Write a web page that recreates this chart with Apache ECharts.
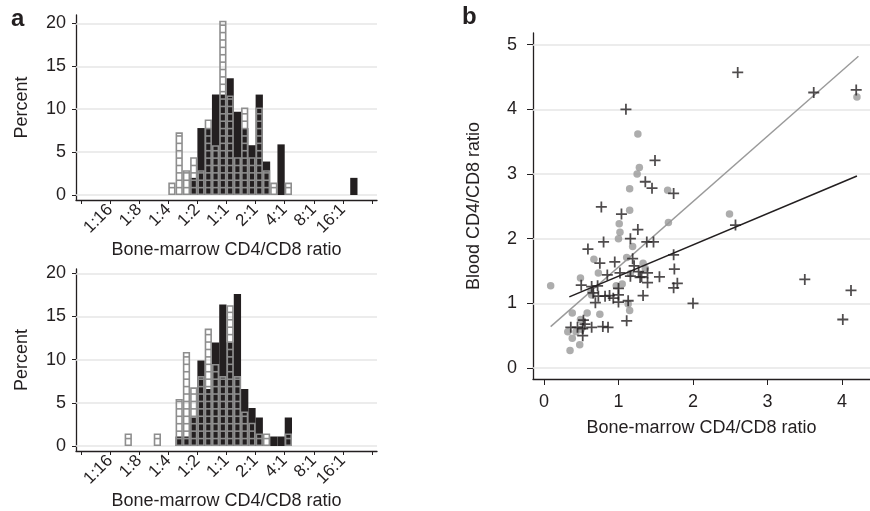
<!DOCTYPE html>
<html>
<head>
<meta charset="utf-8">
<script src="https://cdn.jsdelivr.net/npm/echarts@6/dist/echarts.min.js"></script>
<style>
html, body { margin: 0; padding: 0; background: #fff; }
#main { width: 870px; height: 511px; }
</style>
</head>
<body>
<div id="main"></div>
<script>
// histogram bins: left edge in log2(CD4/CD8), each bin 0.25 wide
var binWidth = 0.25;
var topBlackBins = [-1.25, -1, -0.75, -0.5, -0.25, 0, 0.25, 0.5, 0.75, 1, 1.25, 1.75, 4.25];
var topBlackPct  = [2.0, 7.8, 7.8, 11.7, 11.7, 13.6, 9.7, 7.8, 5.8, 11.7, 3.9, 5.9, 2.0];
var topGrayBins  = [-2, -1.75, -1.5, -1.25, -1, -0.75, -0.5, -0.25, 0, 0.25, 0.5, 0.75, 1, 1.25, 1.5, 2];
var topGrayPct   = [1.45, 7.3, 2.9, 4.4, 2.9, 8.8, 5.8, 20.3, 11.6, 4.4, 10.2, 4.4, 10.2, 2.9, 1.45, 1.45];
var botBlackBins = [-1.75, -1.5, -1.25, -1, -0.75, -0.5, -0.25, 0, 0.25, 0.5, 0.75, 1, 1.5, 1.75, 2];
var botBlackPct  = [1.1, 1.1, 3.3, 9.9, 6.6, 12.0, 16.4, 12.0, 17.6, 6.6, 4.4, 3.3, 1.1, 1.1, 3.3];
var botGrayBins  = [-3.5, -2.5, -1.75, -1.5, -1.25, -1, -0.75, -0.5, -0.25, 0, 0.25, 0.5, 0.75, 1, 1.25, 2];
var botGrayPct   = [1.45, 1.45, 5.45, 10.9, 6.8, 8.1, 13.6, 9.5, 8.1, 16.3, 8.1, 4.0, 2.7, 1.45, 1.45, 1.45];

// axis ticks
var histYTicks = [0, 5, 10, 15, 20];
var ratioTickPos = [-5, -4, -3, -2, -1, 0, 1, 2, 3, 4, 5];
var ratioLabelPos = [-4, -3, -2, -1, 0, 1, 2, 3, 4];
var ratioLabels = ['1:16', '1:8', '1:4', '1:2', '1:1', '2:1', '4:1', '8:1', '16:1'];
var scatterXTicks = [0, 1, 2, 3, 4];
var scatterYTicks = [0, 1, 2, 3, 4, 5];

// scatter: [bone-marrow ratio, blood ratio]
var plusPts = [
  [2.60, 4.57], [3.62, 4.26], [4.19, 4.30], [1.10, 4.00], [1.49, 3.21], [1.36, 2.88],
  [1.45, 2.78], [1.74, 2.70], [0.77, 2.49], [1.04, 2.38], [1.26, 2.14], [2.57, 2.21],
  [0.80, 1.95], [1.16, 2.00], [1.38, 1.95], [1.47, 1.95], [0.59, 1.84], [0.75, 1.62],
  [0.95, 1.64], [1.19, 1.69], [1.21, 1.58], [1.74, 1.75], [0.85, 1.44], [1.02, 1.47],
  [1.16, 1.42], [1.27, 1.49], [1.31, 1.41], [1.39, 1.47], [1.29, 1.40], [1.55, 1.41],
  [1.75, 1.53], [1.79, 1.31], [1.74, 1.24], [1.39, 1.32], [0.50, 1.28], [0.64, 1.26],
  [0.72, 1.27], [0.66, 1.16], [0.73, 1.11], [0.82, 1.11], [0.88, 1.12], [0.93, 1.08],
  [1.00, 1.23], [1.00, 1.13], [1.00, 1.02], [1.13, 1.04], [0.69, 1.01], [1.33, 1.12],
  [1.11, 0.73], [2.00, 1.00], [3.50, 1.37], [4.12, 1.20], [4.01, 0.75], [0.36, 0.63],
  [0.45, 0.63], [0.53, 0.74], [0.52, 0.61], [0.64, 0.63], [0.52, 0.50], [0.79, 0.64],
  [0.86, 0.63], [0.55, 0.68]
];
var dotPts = [
  [0.09, 1.27], [1.26, 3.62], [1.28, 3.10], [1.25, 3.00], [1.15, 2.77], [1.66, 2.75],
  [1.15, 2.44], [1.01, 2.23], [1.67, 2.25], [1.02, 2.10], [1.00, 2.00], [1.19, 1.88],
  [2.49, 2.38], [4.20, 4.19], [1.11, 1.71], [0.67, 1.68], [0.73, 1.47], [1.33, 1.62],
  [1.36, 1.54], [0.49, 1.39], [1.05, 1.30], [0.97, 1.27], [1.16, 1.46], [0.63, 1.18],
  [0.64, 1.13], [0.38, 0.85], [0.58, 0.85], [0.75, 0.83], [1.13, 0.99], [1.15, 0.89],
  [0.49, 0.75], [0.50, 0.60], [0.43, 0.56], [0.32, 0.56], [0.38, 0.46], [0.48, 0.36],
  [0.35, 0.27]
];
var grayFit = [[0.09, 0.64], [4.22, 4.82]];
var blackFit = [[0.34, 1.10], [4.20, 2.97]];

var ink = '#231f20';
var boxGray = '#8e8e8e';
var gridGray = '#e6e6e6';
var font = 'Liberation Sans, Arial, sans-serif';
var boxStep = 0.86;   // height of one pattern square, in percent

function pairs(xs, ys) {
  return xs.map(function (x, i) { return [x, ys[i]]; });
}

function blackBar(params, api) {
  var x0 = api.value(0), h = api.value(1);
  var a = api.coord([x0, h]), b = api.coord([x0 + binWidth, 0]);
  return {
    type: 'rect',
    shape: { x: a[0], y: a[1], width: b[0] - a[0], height: b[1] - a[1] },
    style: { fill: ink }
  };
}

function grayBar(params, api) {
  var x0 = api.value(0), h = api.value(1);
  var a = api.coord([x0, h]), b = api.coord([x0 + binWidth, 0]);
  var lw = 1.6;
  var kids = [{
    type: 'rect',
    shape: { x: a[0] + lw / 2, y: a[1] + lw / 2, width: b[0] - a[0] - lw, height: b[1] - a[1] - lw },
    style: { fill: 'none', stroke: boxGray, lineWidth: lw }
  }];
  for (var v = boxStep; v < h - 0.25; v += boxStep) {
    var y = api.coord([x0, v])[1];
    kids.push({
      type: 'line',
      shape: { x1: a[0] + lw / 2, y1: y, x2: b[0] - lw / 2, y2: y },
      style: { stroke: boxGray, lineWidth: lw }
    });
  }
  return { type: 'group', children: kids };
}

function ratioFmt(v) {
  return ratioLabels[ratioLabelPos.indexOf(v)];
}

function histX(idx) {
  return {
    gridIndex: idx, type: 'value', min: -5.17, max: 5.17,
    axisLine: { show: true, onZero: false, lineStyle: { color: ink, width: 1.3 } },
    axisTick: { show: true, customValues: ratioTickPos, length: 4, lineStyle: { color: ink, width: 1 } },
    axisLabel: { customValues: ratioLabelPos, formatter: ratioFmt, rotate: 45, margin: 7,
      fontSize: 17, color: ink, fontFamily: font },
    splitLine: { show: false },
    name: 'Bone-marrow CD4/CD8 ratio', nameLocation: 'middle', nameGap: 41,
    nameTextStyle: { fontSize: 18, color: ink, fontFamily: font }
  };
}

function histY(idx, maxV) {
  return {
    gridIndex: idx, type: 'value', min: -0.58, max: maxV,
    axisLine: { show: true, onZero: false, lineStyle: { color: ink, width: 1.3 } },
    axisTick: { show: true, customValues: histYTicks, length: 4, lineStyle: { color: ink, width: 1 } },
    axisLabel: { customValues: histYTicks, margin: 10, fontSize: 18, color: ink, fontFamily: font },
    splitLine: { show: false },
    name: 'Percent', nameLocation: 'middle', nameGap: 45,
    nameTextStyle: { fontSize: 18, color: ink, fontFamily: font }
  };
}

function gridLines(xi, yi, ticks) {
  return {
    type: 'line', xAxisIndex: xi, yAxisIndex: yi, data: [], silent: true,
    markLine: {
      silent: true, symbol: 'none', z: 1, animation: false,
      label: { show: false },
      lineStyle: { color: gridGray, width: 1.5, type: 'solid' },
      data: ticks.map(function (v) { return { yAxis: v }; })
    }
  };
}

var plusPath = 'path://M4.2,0H5.8V4.2H10V5.8H5.8V10H4.2V5.8H0V4.2H4.2Z';

var chart = echarts.init(document.getElementById('main'), null, { renderer: 'canvas' });
chart.setOption({
  animation: false,
  backgroundColor: '#fff',
  textStyle: { fontFamily: font },
  grid: [
    { left: 76, top: 15, width: 301, height: 185 },
    { left: 76, top: 269, width: 301, height: 183 },
    { left: 533, top: 33, width: 347, height: 346 }
  ],
  graphic: [
    { type: 'text', left: 11, top: 7, style: { text: 'a', font: 'bold 24px ' + font, fill: ink } },
    { type: 'text', left: 462, top: 5, style: { text: 'b', font: 'bold 24px ' + font, fill: ink } }
  ],
  xAxis: [
    histX(0),
    histX(1),
    {
      gridIndex: 2, type: 'value', min: -0.147, max: 4.375,
      axisLine: { show: true, onZero: false, lineStyle: { color: ink, width: 1.3 } },
      axisTick: { show: true, customValues: scatterXTicks, length: 6, lineStyle: { color: ink, width: 1 } },
      axisLabel: { customValues: scatterXTicks, margin: 14, fontSize: 18, color: ink, fontFamily: font },
      splitLine: { show: false },
      name: 'Bone-marrow CD4/CD8 ratio', nameLocation: 'middle', nameGap: 40,
      nameTextStyle: { fontSize: 18, color: ink, fontFamily: font }
    }
  ],
  yAxis: [
    histY(0, 20.97),
    histY(1, 20.5),
    {
      gridIndex: 2, type: 'value', min: -0.17, max: 5.18,
      axisLine: { show: true, onZero: false, lineStyle: { color: ink, width: 1.3 } },
      axisTick: { show: true, customValues: scatterYTicks, length: 6, lineStyle: { color: ink, width: 1 } },
      axisLabel: { customValues: scatterYTicks, margin: 16, fontSize: 18, color: ink, fontFamily: font },
      splitLine: { show: false },
      name: 'Blood CD4/CD8 ratio', nameLocation: 'middle', nameGap: 50,
      nameTextStyle: { fontSize: 18, color: ink, fontFamily: font }
    }
  ],
  series: [
    gridLines(0, 0, histYTicks),
    gridLines(1, 1, histYTicks),
    gridLines(2, 2, scatterYTicks),
    { type: 'custom', xAxisIndex: 0, yAxisIndex: 0, z: 2, renderItem: blackBar, data: pairs(topBlackBins, topBlackPct) },
    { type: 'custom', xAxisIndex: 0, yAxisIndex: 0, z: 3, renderItem: grayBar, data: pairs(topGrayBins, topGrayPct) },
    { type: 'custom', xAxisIndex: 1, yAxisIndex: 1, z: 2, renderItem: blackBar, data: pairs(botBlackBins, botBlackPct) },
    { type: 'custom', xAxisIndex: 1, yAxisIndex: 1, z: 3, renderItem: grayBar, data: pairs(botGrayBins, botGrayPct) },
    {
      type: 'scatter', xAxisIndex: 2, yAxisIndex: 2, z: 2, symbol: 'circle', symbolSize: 7.5,
      itemStyle: { color: '#999999' }, data: dotPts
    },
    {
      type: 'line', xAxisIndex: 2, yAxisIndex: 2, z: 3, showSymbol: false, data: grayFit,
      lineStyle: { color: '#9a9a9a', width: 1.4 }
    },
    {
      type: 'line', xAxisIndex: 2, yAxisIndex: 2, z: 3, showSymbol: false, data: blackFit,
      lineStyle: { color: ink, width: 1.6 }
    },
    {
      type: 'scatter', xAxisIndex: 2, yAxisIndex: 2, z: 4, symbol: plusPath, symbolSize: 11,
      itemStyle: { color: ink }, data: plusPts
    }
  ]
});
</script>
</body>
</html>
